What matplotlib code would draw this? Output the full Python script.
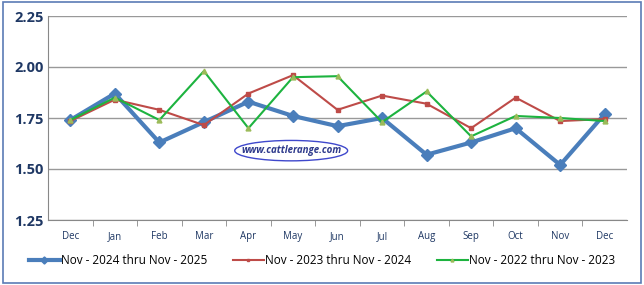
import matplotlib.pyplot as plt
from matplotlib.patches import Rectangle, Ellipse

# data
months = ['Dec', 'Jan', 'Feb', 'Mar', 'Apr', 'May', 'Jun', 'Jul', 'Aug', 'Sep', 'Oct', 'Nov', 'Dec']
s2025 = [1.74, 1.87, 1.63, 1.73, 1.83, 1.76, 1.71, 1.75, 1.57, 1.63, 1.70, 1.52, 1.77]
s2024 = [1.735, 1.84, 1.79, 1.715, 1.87, 1.96, 1.79, 1.86, 1.82, 1.70, 1.85, 1.735, 1.745]
s2023 = [1.74, 1.85, 1.74, 1.98, 1.70, 1.95, 1.955, 1.73, 1.88, 1.66, 1.76, 1.75, 1.735]
labels = ['Nov - 2024 thru Nov - 2025', 'Nov - 2023 thru Nov - 2024', 'Nov - 2022 thru Nov - 2023']
yticks = [1.25, 1.50, 1.75, 2.00, 2.25]

plt.rcParams['font.family'] = ['Open Sans', 'DejaVu Sans']
navy = '#1F3864'

fig = plt.figure(figsize=(6.44, 2.85), dpi=100)
ax = fig.add_axes([48 / 644, 65 / 285, 579 / 644, 204 / 285])

x = list(range(len(months)))
ax.plot(x, s2025, color='#4A7EBB', lw=3, marker='D', ms=6, label=labels[0], zorder=3)
ax.plot(x, s2024, color='#BE4B48', lw=1.5, marker='s', ms=3.5, label=labels[1], zorder=4)
ax.plot(x, s2023, color='#1DB33F', lw=1.5, marker='^', ms=3.5, mfc='#9BBB59', mec='#9BBB59',
        label=labels[2], zorder=5)

ax.set_xlim(-0.5, len(months) - 0.5)
ax.set_ylim(1.25, 2.25)
ax.set_yticks(yticks)
ax.set_yticklabels(['%.2f' % v for v in yticks], fontsize=10.5, fontweight='bold', color=navy)
ax.set_xticks(x)
ax.set_xticklabels(months, fontsize=7, color=navy)
ax.set_xticks([i + 0.5 for i in x[:-1]], minor=True)
ax.tick_params(axis='x', which='major', length=0, pad=8)
ax.tick_params(axis='x', which='minor', length=4, color='#888888')
ax.tick_params(axis='y', length=0, pad=3)
ax.grid(axis='y', color='#999999', lw=1)
ax.set_axisbelow(True)
for side in ['top', 'right']:
    ax.spines[side].set_visible(False)
ax.spines['left'].set_color('#888888')
ax.spines['bottom'].set_color('#888888')

# watermark
ax.add_patch(Ellipse((0.42, 0.34), 0.195, 0.10, transform=ax.transAxes,
                     fill=False, ec='#3F48CC', lw=1, zorder=2))
ax.text(0.42, 0.34, 'www.cattlerange.com', transform=ax.transAxes, ha='center', va='center',
        fontsize=7, fontweight='bold', fontstyle='italic', color='#2E3A8C', zorder=2)

fig.legend(loc='lower center', bbox_to_anchor=(0.5, 0.025), ncol=3, frameon=False,
           fontsize=8.5, handlelength=2.6, columnspacing=2.2, handletextpad=0.1,
           markerscale=0.6)

fig.patches.append(Rectangle((0.004, 0.007), 0.992, 0.986, transform=fig.transFigure,
                             fill=False, ec='#5B7BB5', lw=1.2))

fig.savefig('out.png', dpi=100)
